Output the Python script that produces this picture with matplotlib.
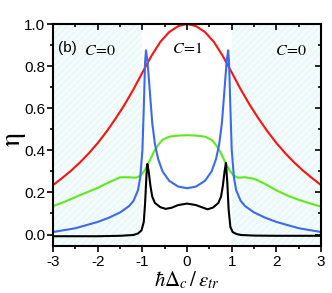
import numpy as np
import matplotlib.pyplot as plt
from matplotlib.ticker import FormatStrFormatter

plt.rcParams['font.family'] = ['Liberation Sans', 'DejaVu Sans']
plt.rcParams['mathtext.fontset'] = 'stix'
plt.rcParams['hatch.linewidth'] = 0.6

# red curve
x_red = [-3, -2.8, -2.6, -2.4, -2.2, -2, -1.8, -1.6, -1.4, -1.2, -1, -0.8, -0.6, -0.4, -0.2, 0,
         0.2, 0.4, 0.6, 0.8, 1, 1.2, 1.4, 1.6, 1.8, 2, 2.2, 2.4, 2.6, 2.8, 3]
y_red = [0.235, 0.268, 0.303, 0.342, 0.386, 0.435, 0.49, 0.551, 0.617, 0.69, 0.77, 0.848,
         0.915, 0.962, 0.99, 1.0,
         0.99, 0.962, 0.915, 0.848, 0.77, 0.69, 0.617, 0.551, 0.49, 0.435, 0.386, 0.342,
         0.303, 0.268, 0.235]

# blue curve
x_blue = [-3, -2.5, -2, -1.75, -1.5, -1.3, -1.2, -1.1, -1.05, -1.0, -0.97, -0.94, -0.92,
          -0.89, -0.86, -0.82, -0.78, -0.72, -0.65, -0.55, -0.4, -0.2, 0,
          0.2, 0.4, 0.55, 0.65, 0.72, 0.78, 0.82, 0.86, 0.89, 0.92, 0.94, 0.97,
          1.0, 1.05, 1.1, 1.2, 1.3, 1.5, 1.75, 2, 2.5, 3]
y_blue = [0.012, 0.03, 0.06, 0.08, 0.105, 0.135, 0.16, 0.21, 0.27, 0.4, 0.6, 0.82, 0.875,
          0.83, 0.75, 0.64, 0.53, 0.43, 0.36, 0.3, 0.255, 0.228, 0.22,
          0.228, 0.255, 0.3, 0.36, 0.43, 0.53, 0.64, 0.75, 0.83, 0.875, 0.82, 0.6,
          0.4, 0.27, 0.21, 0.16, 0.135, 0.105, 0.08, 0.06, 0.03, 0.012]

# green curve
x_green = [-3, -2.75, -2.5, -2.25, -2, -1.75, -1.5, -1.3, -1.15, -1.05, -0.95, -0.85,
           -0.75, -0.65, -0.55, -0.4, -0.2, 0, 0.2, 0.4, 0.55, 0.65, 0.75, 0.85, 0.95,
           1.05, 1.15, 1.3, 1.5, 1.75, 2, 2.25, 2.5, 2.75, 3]
y_green = [0.135, 0.155, 0.178, 0.2, 0.222, 0.248, 0.272, 0.272, 0.27, 0.278, 0.305, 0.345,
           0.39, 0.425, 0.45, 0.465, 0.47, 0.472, 0.47, 0.465, 0.45, 0.425, 0.39, 0.345, 0.305,
           0.278, 0.27, 0.272, 0.265, 0.24, 0.21, 0.185, 0.165, 0.148, 0.133]

# black curve
x_black = [-3, -2, -1.5, -1.2, -1.1, -1.02, -0.97, -0.94, -0.91, -0.89, -0.86, -0.82,
           -0.78, -0.72, -0.6, -0.48, -0.35, -0.2, 0, 0.2, 0.35, 0.46, 0.58, 0.7, 0.76,
           0.8, 0.84, 0.87, 0.9, 0.93, 0.97, 1.02, 1.1, 1.2, 1.5, 2, 3]
y_black = [-0.008, -0.008, -0.006, -0.002, 0.005, 0.02, 0.06, 0.15, 0.28, 0.335, 0.3, 0.23,
           0.18, 0.15, 0.13, 0.122, 0.127, 0.14, 0.147, 0.14, 0.128, 0.12, 0.128, 0.15, 0.18,
           0.23, 0.3, 0.34, 0.25, 0.12, 0.036, 0.012, 0.003, -0.002, -0.005, -0.006, -0.006]

xmajor = [-3, -2, -1, 0, 1, 2, 3]
ymajor = [0.0, 0.2, 0.4, 0.6, 0.8, 1.0]

fig = plt.figure(figsize=(3.32, 2.93), dpi=100)
rect = [0.16, 0.16, 0.807, 0.758]
ax = fig.add_axes(rect)

# shaded C=0 regions
for x0, x1 in [(-3, -1), (1, 3)]:
    ax.axvspan(x0, x1, facecolor='#f4fcfb', edgecolor='#e0f6f3', hatch='/////',
               linewidth=0, zorder=0)

ax.plot(x_red, y_red, color='#ff1010', lw=1.5)
ax.plot(x_green, y_green, color='#5ee81e', lw=1.5)
ax.plot(x_blue, y_blue, color='#3a6af0', lw=1.5)
ax.plot(x_black, y_black, color='black', lw=1.5)

ax.set_xlim(-3, 3)
ax.set_ylim(-0.055, 1.0)
ax.set_xticks(xmajor)
ax.set_yticks(ymajor)
ax.set_xticks(np.arange(-2.5, 3, 1.0), minor=True)
ax.set_yticks(np.arange(0.1, 1.0, 0.2), minor=True)
ax.xaxis.set_major_formatter(FormatStrFormatter('%d'))
ax.yaxis.set_major_formatter(FormatStrFormatter('%.1f'))
ax.tick_params(which='both', direction='out', labelsize=11, width=1.2)
ax.tick_params(which='major', length=4)
ax.tick_params(which='minor', length=2.5)
ax.tick_params(axis='y', pad=1.5)
ax.tick_params(axis='x', pad=2.5)
for s in ax.spines.values():
    s.set_linewidth(1.5)

# inward ticks on top and right, drawn by an overlaid frameless axes
ax2 = fig.add_axes(rect, facecolor='none')
ax2.set_xlim(ax.get_xlim())
ax2.set_ylim(ax.get_ylim())
ax2.set_xticks(xmajor)
ax2.set_yticks(ymajor)
ax2.set_xticks(np.arange(-2.5, 3, 1.0), minor=True)
ax2.set_yticks(np.arange(0.1, 1.0, 0.2), minor=True)
ax2.tick_params(which='both', direction='in', width=1.2, left=False, bottom=False,
                top=True, right=True, labelleft=False, labelbottom=False)
ax2.tick_params(which='major', length=4)
ax2.tick_params(which='minor', length=2.5)
for s in ax2.spines.values():
    s.set_visible(False)

ax.set_xlabel(r'$\hbar\Delta_c\,/\,\varepsilon_{tr}$', fontsize=15, labelpad=0)
ax.set_ylabel(r'$\mathrm{\eta}$', fontsize=20)
ax.yaxis.set_label_coords(-0.095, 0.48)

ax.text(-2.88, 0.885, '(b)', fontsize=11, va='center', ha='left')
ax.text(-1.95, 0.875, r'$C\!=\!0$', fontsize=11.5, va='center', ha='center')
ax.text(0.0, 0.885, r'$C\!=\!1$', fontsize=11.5, va='center', ha='center')
ax.text(2.33, 0.875, r'$C\!=\!0$', fontsize=11.5, va='center', ha='center')

fig.savefig('out.png', dpi=100)
